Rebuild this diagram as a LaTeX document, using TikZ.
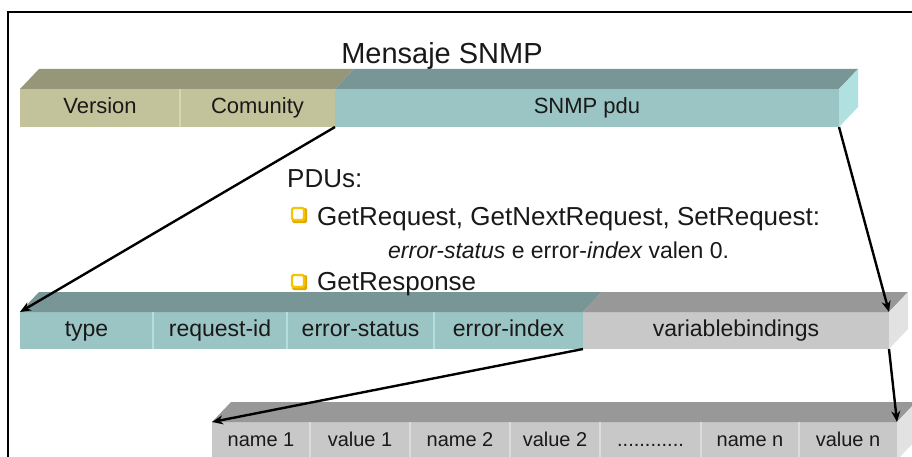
\documentclass[tikz,border=0pt]{standalone}
\usepackage{fontspec}
\setmainfont{Liberation Sans}
\usetikzlibrary{arrows.meta}

\definecolor{olivefront}{RGB}{195,195,155}
\definecolor{olivetop}{RGB}{150,150,120}
\definecolor{olivediv}{RGB}{214,214,178}
\definecolor{tealfront}{RGB}{155,196,196}
\definecolor{tealtop}{RGB}{120,150,150}
\definecolor{tealside}{RGB}{176,224,224}
\definecolor{tealdiv}{RGB}{182,220,220}
\definecolor{grayfront}{RGB}{200,200,200}
\definecolor{graytop}{RGB}{152,152,152}
\definecolor{grayside}{RGB}{226,226,226}
\definecolor{graydiv}{RGB}{220,220,220}
\definecolor{bulletgold}{RGB}{248,196,0}
\definecolor{bulletshade}{RGB}{226,170,0}
\definecolor{inkcol}{RGB}{25,25,25}

\tikzset{
  seg/.style={rectangle, inner sep=0pt, outer sep=0pt, anchor=north west,
    text=inkcol},
  segA/.style={seg, minimum height=38pt, text height=16pt, text depth=5pt,
    font=\fontsize{22}{26}\selectfont},
  segB/.style={seg, minimum height=37pt, text height=17pt, text depth=5pt,
    font=\fontsize{23}{27}\selectfont},
  segC/.style={seg, minimum height=38pt, text height=15pt, text depth=4pt,
    font=\fontsize{20}{24}\selectfont},
  divider/.style={line width=1.5pt},
  conn/.style={draw=black, line width=2.4pt,
    -{Stealth[length=11pt,width=9pt]}},
  bodytext/.style={anchor=base west, inner sep=0pt, text=inkcol,
    font=\fontsize{26}{30}\selectfont},
  bulletbox/.style={rectangle, draw=bulletgold, fill=white, line width=2.2pt,
    minimum size=12pt, inner sep=0pt, rounded corners=1.5pt},
  bulletshadow/.style={rectangle, fill=bulletshade, minimum size=15pt,
    inner sep=0pt, rounded corners=1.5pt},
}

\begin{document}
\begin{tikzpicture}[x=1pt, y=-1pt]
  \clip (0,0) rectangle (912,457);
  \fill[white] (0,0) rectangle (912,457);

  % outer frame (left and top edges)
  \draw[line width=2pt] (8,457) -- (8,12) -- (912,12);

  % title
  \node[anchor=base, inner sep=0pt, text=inkcol,
        font=\fontsize{29}{34}\selectfont] (title) at (442,64) {Mensaje SNMP};

  % ---------- message bar ----------
  \node[segA, fill=olivefront, minimum width=160pt] (ver) at (20,89) {Version};
  \node[segA, fill=olivefront, minimum width=155pt] (com) at (180,89) {Comunity};
  \node[segA, fill=tealfront, minimum width=504pt] (pdu) at (335,89) {SNMP pdu};
  \fill[olivetop] (ver.north west) -- ([shift={(19,-20)}]ver.north west)
    -- ([shift={(19,-20)}]com.north east) -- (com.north east) -- cycle;
  \fill[tealtop] (pdu.north west) -- ([shift={(19,-20)}]pdu.north west)
    -- ([shift={(19,-20)}]pdu.north east) -- (pdu.north east) -- cycle;
  \fill[tealside] (pdu.north east) -- ([shift={(19,-20)}]pdu.north east)
    -- ([shift={(19,-20)}]pdu.south east) -- (pdu.south east) -- cycle;
  \draw[divider, olivediv] (ver.north east) -- (ver.south east);

  % ---------- PDU bar ----------
  \node[segB, fill=tealfront, minimum width=133pt] (type) at (20,312) {type};
  \node[segB, fill=tealfront, minimum width=134pt] (reqid) at (153,312) {request-id};
  \node[segB, fill=tealfront, minimum width=147pt] (errst) at (287,312) {error-status};
  \node[segB, fill=tealfront, minimum width=149pt] (errix) at (434,312) {error-index};
  \node[segB, fill=grayfront, minimum width=306pt] (vb) at (583,312) {variablebindings};
  \fill[tealtop] (type.north west) -- ([shift={(19,-20)}]type.north west)
    -- ([shift={(19,-20)}]errix.north east) -- (errix.north east) -- cycle;
  \fill[graytop] (vb.north west) -- ([shift={(19,-20)}]vb.north west)
    -- ([shift={(19,-20)}]vb.north east) -- (vb.north east) -- cycle;
  \fill[grayside] (vb.north east) -- ([shift={(19,-20)}]vb.north east)
    -- ([shift={(19,-20)}]vb.south east) -- (vb.south east) -- cycle;
  \foreach \s in {type,reqid,errst}
    \draw[divider, tealdiv] (\s.north east) -- (\s.south east);

  % ---------- variable bindings bar ----------
  \node[segC, fill=grayfront, minimum width=98pt] (n1) at (212,422) {name 1};
  \node[segC, fill=grayfront, minimum width=100pt] (v1) at (310,422) {value 1};
  \node[segC, fill=grayfront, minimum width=100pt] (n2) at (410,422) {name 2};
  \node[segC, fill=grayfront, minimum width=90pt] (v2) at (510,422) {value 2};
  \node[segC, fill=grayfront, minimum width=101pt] (dots) at (600,422) {............};
  \node[segC, fill=grayfront, minimum width=98pt] (nn) at (701,422) {name n};
  \node[segC, fill=grayfront, minimum width=98pt] (vn) at (799,422) {value n};
  \fill[graytop] (n1.north west) -- ([shift={(19,-20)}]n1.north west)
    -- ([shift={(19,-20)}]vn.north east) -- (vn.north east) -- cycle;
  \fill[grayside] (vn.north east) -- ([shift={(19,-20)}]vn.north east)
    -- ([shift={(19,-20)}]vn.south east) -- (vn.south east) -- cycle;
  \foreach \s in {n1,v1,n2,v2,dots,nn}
    \draw[divider, graydiv] (\s.north east) -- (\s.south east);

  % ---------- PDU list ----------
  \node[bodytext] (pdus) at (287,188) {PDUs:};
  \node[bulletshadow] (sh1) at (299.5,215.5) {};
  \node[bulletbox] (b1) at (298,214) {};
  \node[bodytext] (req) at (317,225) {GetRequest, GetNextRequest, SetRequest:};
  \node[bodytext, font=\fontsize{23}{27}\selectfont] (note) at (388,258)
    {\itshape error-status\upshape{} e error-\itshape index\upshape{} valen 0.};
  \node[bulletshadow] (sh2) at (299.5,282.5) {};
  \node[bulletbox] (b2) at (298,281) {};
  \node[bodytext] (resp) at (317,290) {GetResponse};

  % ---------- expansion arrows ----------
  \draw[conn] (pdu.south west) -- (type.north west);
  \draw[conn] (pdu.south east) -- (vb.north east);
  \draw[conn] (vb.south west) -- (n1.north west);
  \draw[conn] (vb.south east) -- (vn.north east);
\end{tikzpicture}
\end{document}
